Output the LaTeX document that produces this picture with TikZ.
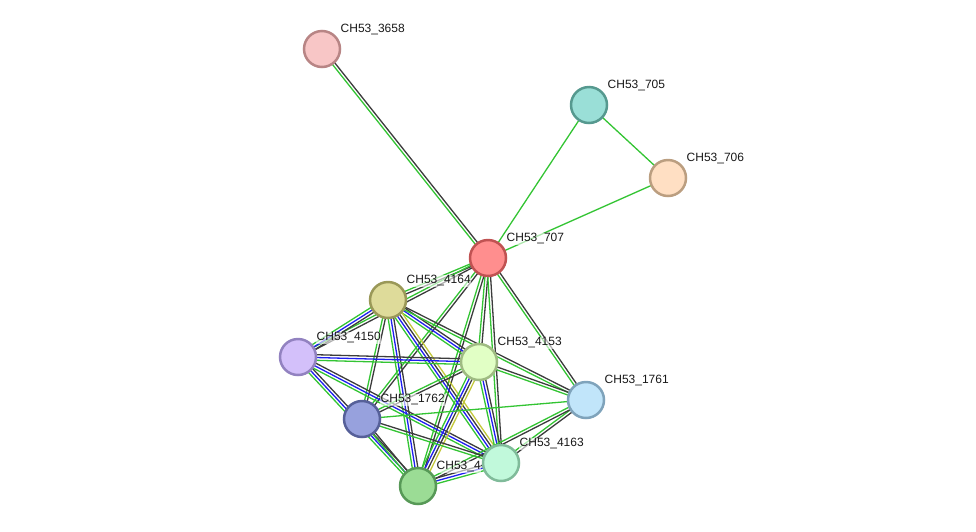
\documentclass[tikz,border=0pt]{standalone}
\usepackage{fontspec}
\setmainfont{Liberation Sans}
\usetikzlibrary{positioning, calc, backgrounds}

% node colours (fill / border)
\definecolor{f3658}{HTML}{F8C6C6}\definecolor{d3658}{HTML}{B88585}
\definecolor{f705}{HTML}{9ADFD7}\definecolor{d705}{HTML}{56998F}
\definecolor{f706}{HTML}{FFDFC3}\definecolor{d706}{HTML}{BB9E80}
\definecolor{f707}{HTML}{FF8E8E}\definecolor{d707}{HTML}{C05252}
\definecolor{f4164}{HTML}{DEDB9A}\definecolor{d4164}{HTML}{9A9858}
\definecolor{f4150}{HTML}{D3C0FA}\definecolor{d4150}{HTML}{9282C0}
\definecolor{f4153}{HTML}{E1FFC5}\definecolor{d4153}{HTML}{9FBB82}
\definecolor{f1761}{HTML}{C1E5FA}\definecolor{d1761}{HTML}{7FA3BB}
\definecolor{f1762}{HTML}{97A1DD}\definecolor{d1762}{HTML}{566099}
\definecolor{f4163}{HTML}{C1F9DB}\definecolor{d4163}{HTML}{80BB9A}
\definecolor{f41}{HTML}{9BDC95}\definecolor{d41}{HTML}{579957}
% edge colours
\definecolor{cg}{HTML}{33C433}
\definecolor{ck}{HTML}{3C3C3C}
\definecolor{cb}{HTML}{1E1EF0}
\definecolor{cy}{HTML}{C3C83A}

\tikzset{
  prot/.style={circle, minimum size=36pt, inner sep=0pt, line width=2.5pt},
  lbl/.style={font=\fontsize{12}{14}\selectfont, text=black!90, inner sep=0.5pt,
    fill=white, fill opacity=0.6, text opacity=1},
  eg/.style={cg, line width=1.3pt},
  ek/.style={ck, line width=1.3pt},
  eb/.style={cb, line width=1.3pt},
  ey/.style={cy, line width=1.3pt},
}

% bundle of parallel lines between two proteins
\newcommand{\bund}[4]{%
  \foreach \c [count=\i] in {#4}{%
    \pgfmathsetmacro{\off}{(\i-(#3+1)/2)*2.8}%
    \draw[\c] ($(#1)!\off pt!90:(#2)$) -- ($(#2)!\off pt!-90:(#1)$);}}

\begin{document}
\begin{tikzpicture}[x=1pt, y=-1pt]
  \useasboundingbox (0,0) rectangle (976,531);

  % proteins
  \node[prot, fill=f3658, draw=d3658] (p3658) at (322,49) {};
  \node[prot, fill=f705, draw=d705] (p705) at (589,105) {};
  \node[prot, fill=f706, draw=d706] (p706) at (668,178) {};
  \node[prot, fill=f707, draw=d707] (p707) at (488,258) {};
  \node[prot, fill=f4164, draw=d4164] (p4164) at (388,300) {};
  \node[prot, fill=f4150, draw=d4150] (p4150) at (298,357) {};
  \node[prot, fill=f4153, draw=d4153] (p4153) at (479,362) {};
  \node[prot, fill=f1761, draw=d1761] (p1761) at (586,400) {};
  \node[prot, fill=f1762, draw=d1762] (p1762) at (362,419) {};
  \node[prot, fill=f41, draw=d41] (p41) at (418,486) {};
  \node[prot, fill=f4163, draw=d4163] (p4163) at (501,463) {};

  % labels
  \node[lbl, anchor=south west, above right=13pt and 18pt of p3658.center] (l3658) {CH53\_3658};
  \node[lbl, anchor=south west, above right=13pt and 18pt of p705.center] (l705) {CH53\_705};
  \node[lbl, anchor=south west, above right=13pt and 18pt of p706.center] (l706) {CH53\_706};
  \node[lbl, anchor=south west, above right=13pt and 18pt of p707.center] (l707) {CH53\_707};
  \node[lbl, anchor=south west, above right=13pt and 18pt of p4164.center] (l4164) {CH53\_4164};
  \node[lbl, anchor=south west, above right=13pt and 18pt of p4150.center] (l4150) {CH53\_4150};
  \node[lbl, anchor=south west, above right=13pt and 18pt of p4153.center] (l4153) {CH53\_4153};
  \node[lbl, anchor=south west, above right=13pt and 18pt of p1761.center] (l1761) {CH53\_1761};
  \node[lbl, anchor=south west, above right=13pt and 18pt of p1762.center] (l1762) {CH53\_1762};
  \node[lbl, anchor=south west, above right=13pt and 18pt of p41.center] (l41) {CH53\_4};
  \node[lbl, anchor=south west, above right=13pt and 18pt of p4163.center] (l4163) {CH53\_4163};

  % interactions
  \begin{scope}[on background layer]
    \bund{p3658}{p707}{2}{eg,ek}
    \bund{p705}{p707}{1}{eg}
    \bund{p705}{p706}{1}{eg}
    \bund{p706}{p707}{1}{eg}
    \bund{p707}{p4164}{2}{eg,ek}
    \bund{p707}{p4150}{2}{eg,ek}
    \bund{p707}{p4153}{2}{eg,ek}
    \bund{p707}{p1762}{2}{eg,ek}
    \bund{p707}{p41}{2}{eg,ek}
    \bund{p707}{p4163}{2}{eg,ek}
    \bund{p707}{p1761}{2}{eg,ek}
    \bund{p4164}{p4150}{3}{eg,eb,ek}
    \bund{p4164}{p4153}{3}{eg,eb,ek}
    \bund{p4164}{p1762}{2}{eg,ek}
    \bund{p4164}{p41}{3}{eg,eb,ek}
    \bund{p4164}{p4163}{4}{eg,eb,ek,ey}
    \bund{p4164}{p1761}{2}{eg,ek}
    \bund{p4150}{p4153}{3}{eg,eb,ek}
    \bund{p4150}{p41}{3}{eg,eb,ek}
    \bund{p4150}{p4163}{3}{eg,eb,ek}
    \bund{p4153}{p1761}{2}{eg,ek}
    \bund{p4153}{p1762}{2}{eg,ek}
    \bund{p4153}{p41}{4}{eg,eb,ek,ey}
    \bund{p4153}{p4163}{3}{eg,eb,ek}
    \bund{p1761}{p1762}{1}{eg}
    \bund{p1761}{p4163}{2}{eg,ek}
    \bund{p1761}{p41}{2}{eg,ek}
    \bund{p1762}{p4163}{2}{eg,ek}
    \bund{p1762}{p41}{2}{eg,ek}
    \bund{p41}{p4163}{3}{eg,eb,ek}
  \end{scope}
\end{tikzpicture}
\end{document}
